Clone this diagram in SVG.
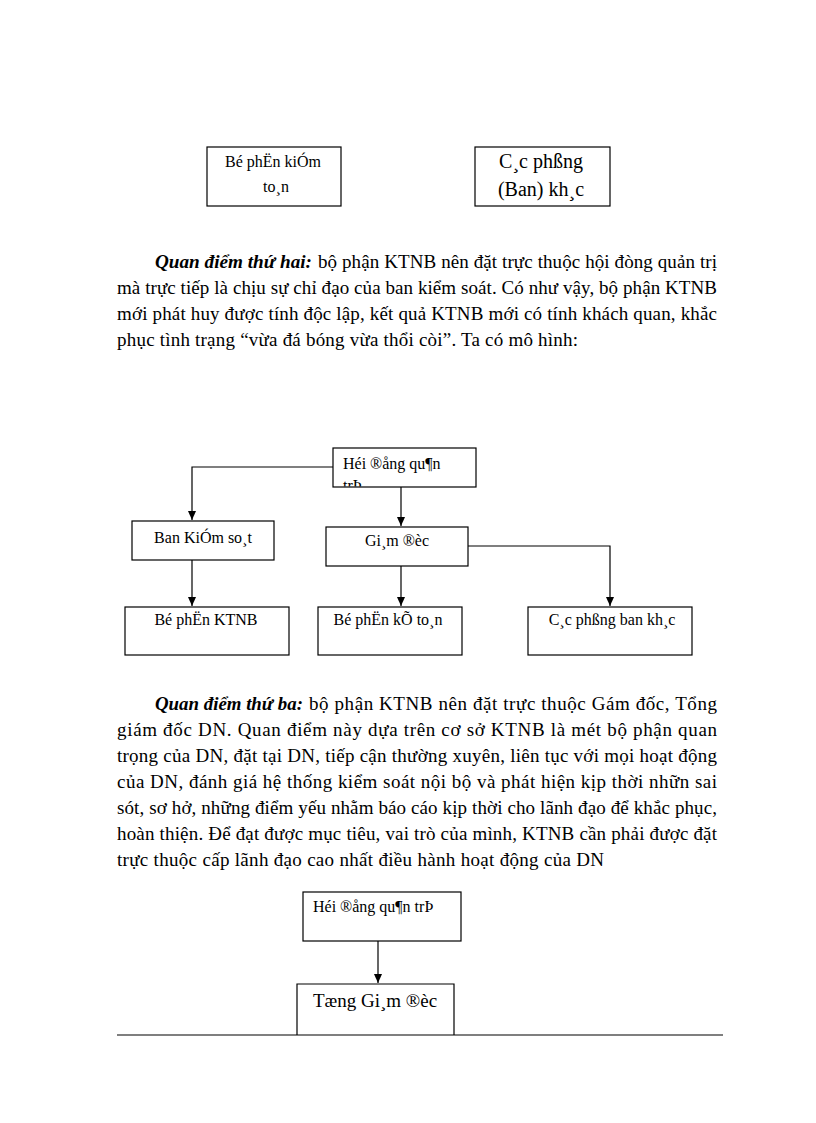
<svg xmlns="http://www.w3.org/2000/svg" width="816" height="1123" viewBox="0 0 816 1123">
<style>
  .bg{fill:#fff}
  .box{fill:#fff;stroke:#000;stroke-width:1.2}
  .ln{fill:none;stroke:#000;stroke-width:1.2}
  .t{font-family:"Liberation Serif","Times New Roman",serif;fill:#000}
  .body{font-size:19px}
  .bi{font-weight:bold;font-style:italic}
  .bx{font-size:16px}
  .c{text-anchor:middle}
</style>
<defs>
  <marker id="ah" markerWidth="10" markerHeight="10" refX="9" refY="4" orient="auto" markerUnits="userSpaceOnUse">
    <path d="M0,0 L9,4 L0,8 Z" fill="#000"/>
  </marker>
  <clipPath id="clipHoi"><rect x="334" y="449" width="141" height="37.5"/></clipPath>
</defs>
<rect class="bg" x="0" y="0" width="816" height="1123"/>

<!-- Diagram 1 -->
<g id="node-bophan-kiemtoan">
  <rect class="box" x="207" y="147" width="134" height="59"/>
  <text class="t bx c" x="273" y="167">Bé phËn kiÓm</text>
  <text class="t bx c" x="276" y="192">to¸n</text>
</g>
<g id="node-cacphong-ban">
  <rect class="box" x="475" y="147" width="135" height="59"/>
  <text class="t c" style="font-size:20px" x="541" y="168">C¸c phßng</text>
  <text class="t c" style="font-size:20px" x="541" y="196">(Ban) kh¸c</text>
</g>

<!-- Paragraph 1 -->
<g id="para1">
  <text class="t body bi" x="155" y="268" textLength="157" lengthAdjust="spacingAndGlyphs">Quan điểm thứ hai:</text>
  <text class="t body" x="318" y="268" textLength="399" lengthAdjust="spacing">bộ phận KTNB nên đặt trực thuộc hội đòng quản trị</text>
  <text class="t body" x="117" y="294" textLength="600" lengthAdjust="spacing">mà trực tiếp là chịu sự chỉ đạo của ban kiểm soát. Có như vậy, bộ phận KTNB</text>
  <text class="t body" x="117" y="320" textLength="600" lengthAdjust="spacing">mới phát huy được tính độc lập, kết quả KTNB mới có tính khách quan, khắc</text>
  <text class="t body" x="117" y="346" textLength="461" lengthAdjust="spacing">phục tình trạng “vừa đá bóng vừa thổi còi”. Ta có mô hình:</text>
</g>

<!-- Diagram 2 -->
<g id="connectors2">
  <polyline class="ln" points="333,467 192,467 192,520" marker-end="url(#ah)"/>
  <line class="ln" x1="401" y1="487" x2="401" y2="526" marker-end="url(#ah)"/>
  <line class="ln" x1="192" y1="560" x2="192" y2="606" marker-end="url(#ah)"/>
  <line class="ln" x1="401" y1="566" x2="401" y2="606" marker-end="url(#ah)"/>
  <polyline class="ln" points="468,546 610,546 610,606" marker-end="url(#ah)"/>
</g>
<g id="node-hoidong">
  <rect class="box" x="333" y="448" width="143" height="39"/>
  <g clip-path="url(#clipHoi)">
    <text class="t bx" x="343" y="469">Héi ®ång qu¶n</text>
    <text class="t bx" x="343" y="491">trÞ</text>
  </g>
</g>
<g id="node-bankiemsoat">
  <rect class="box" x="132" y="521" width="142" height="39"/>
  <text class="t bx c" x="203" y="543">Ban KiÓm so¸t</text>
</g>
<g id="node-giamdoc">
  <rect class="box" x="326" y="527" width="142" height="39"/>
  <text class="t bx c" x="397" y="546">Gi¸m ®èc</text>
</g>
<g id="node-ktnb">
  <rect class="box" x="125" y="607" width="164" height="48"/>
  <text class="t bx c" x="206" y="625">Bé phËn KTNB</text>
</g>
<g id="node-ketoan">
  <rect class="box" x="318" y="607" width="144" height="48"/>
  <text class="t bx c" x="388" y="625">Bé phËn kÕ to¸n</text>
</g>
<g id="node-cacphongban">
  <rect class="box" x="528" y="607" width="164" height="48"/>
  <text class="t bx c" x="612" y="625">C¸c phßng ban kh¸c</text>
</g>

<!-- Paragraph 2 -->
<g id="para2">
  <text class="t body bi" x="155" y="710" textLength="148" lengthAdjust="spacingAndGlyphs">Quan điểm thứ ba:</text>
  <text class="t body" x="309" y="710" textLength="408" lengthAdjust="spacing">bộ phận KTNB nên đặt trực thuộc Gám đốc, Tổng</text>
  <text class="t body" x="117" y="736" textLength="600" lengthAdjust="spacing">giám đốc DN. Quan điểm này dựa trên cơ sở KTNB là mét bộ phận quan</text>
  <text class="t body" x="117" y="762" textLength="600" lengthAdjust="spacing">trọng của DN, đặt tại DN, tiếp cận thường xuyên, liên tục với mọi hoạt động</text>
  <text class="t body" x="117" y="788" textLength="600" lengthAdjust="spacing">của DN, đánh giá hệ thống kiểm soát nội bộ và phát hiện kịp thời nhữn sai</text>
  <text class="t body" x="117" y="814" textLength="600" lengthAdjust="spacing">sót, sơ hở, những điểm yếu nhằm báo cáo kịp thời cho lãnh đạo để khắc phục,</text>
  <text class="t body" x="117" y="840" textLength="600" lengthAdjust="spacing">hoàn thiện. Để đạt được mục tiêu, vai trò của mình, KTNB cần phải được đặt</text>
  <text class="t body" x="117" y="866" textLength="487" lengthAdjust="spacing">trực thuộc cấp lãnh đạo cao nhất điều hành hoạt động của DN</text>
</g>

<!-- Diagram 3 -->
<g id="connectors3">
  <line class="ln" x1="378" y1="941" x2="378" y2="983" marker-end="url(#ah)"/>
</g>
<g id="node-hoidong2">
  <rect class="box" x="303" y="892" width="158" height="49"/>
  <text class="t bx" x="313" y="912">Héi ®ång qu¶n trÞ</text>
</g>
<g id="node-tonggiamdoc">
  <path class="ln" d="M297,1035 V984 H454 V1035"/>
  <text class="t c" style="font-size:19px" x="375" y="1007">Tæng Gi¸m ®èc</text>
</g>
<line class="ln" x1="117" y1="1035" x2="723" y2="1035"/>
</svg>
